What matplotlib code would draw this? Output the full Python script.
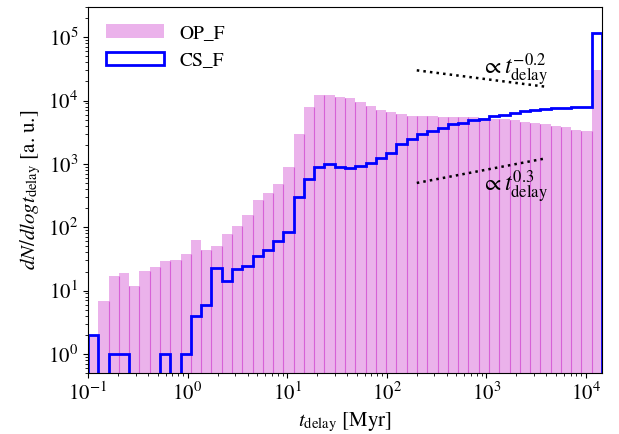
import numpy as np
import matplotlib

matplotlib.use("Agg")
import matplotlib.pyplot as plt

plt.rcParams["font.family"] = "STIXGeneral"
plt.rcParams["mathtext.fontset"] = "stix"

# log-spaced delay-time bins (Myr)
T_MIN = 0.1
T_MAX = 1.45e4
N_BINS = 50

OP_F = [2, 6.9, 17, 19, 12, 20.5, 23.7, 29.5, 30.5, 38,
        63, 44, 51, 79, 105, 157, 271, 349, 485, 900,
        2990, 7980, 12400, 12200, 11500, 11100, 9570, 8270, 7160, 6650,
        6200, 5800, 5750, 5650, 5550, 5500, 5450, 5400, 5300, 5200,
        5100, 4850, 4625, 4400, 4300, 4000, 3810, 3460, 3330, 29900]

CS_F = [2, 0, 1, 1, 0, 0, 0, 1, 0, 1,
        4, 6, 23, 14, 22, 24, 35, 44, 60, 84,
        300, 575, 900, 980, 900, 867, 923, 1030, 1250, 1510,
        2055, 2500, 2950, 3300, 3700, 4200, 4500, 4900, 5200, 5600,
        6000, 6400, 6800, 7100, 7400, 7600, 7750, 7900, 8000, 116500]

# guide power laws
SLOPE_HI, NORM_HI = -0.2, 3.0e4
SLOPE_LO, NORM_LO = 0.3, 500.0
GUIDE_X = (200.0, 3800.0)

Y_MIN, Y_MAX = 0.5, 3e5

edges = np.logspace(np.log10(T_MIN), np.log10(T_MAX), N_BINS + 1)
centers = np.sqrt(edges[:-1] * edges[1:])
op = np.array(OP_F, dtype=float)

fig = plt.figure(figsize=(6.19, 4.34), dpi=100)
ax = fig.add_axes([0.1422, 0.1406, 0.8304, 0.8433])

ax.hist(centers, bins=edges, weights=OP_F, color="m", alpha=0.3,
        linewidth=0, label="OP_F")
# seams between neighbouring bars
ax.vlines(edges[1:-1], Y_MIN, np.minimum(op[:-1], op[1:]), color="m",
          alpha=0.45, linewidth=0.8)
ax.hist(centers, bins=edges, weights=CS_F, histtype="step", color="b",
        linewidth=2, label="CS_F")

gx = np.array(GUIDE_X)
ax.plot(gx, NORM_HI * (gx / gx[0]) ** SLOPE_HI, ls=":", color="k", lw=1.8)
ax.plot(gx, NORM_LO * (gx / gx[0]) ** SLOPE_LO, ls=":", color="k", lw=1.8)
ax.text(1900, 3.1e4, r"$\propto t_{\rm delay}^{-0.2}$", fontsize=17,
        ha="center", va="center")
ax.text(1900, 440, r"$\propto t_{\rm delay}^{0.3}$", fontsize=17,
        ha="center", va="center")

ax.set_xscale("log")
ax.set_yscale("log")
ax.set_xlim(T_MIN, T_MAX)
ax.set_ylim(Y_MIN, Y_MAX)
ax.tick_params(labelsize=15)
ax.set_xlabel(r"$t_{\rm delay}$ [Myr]", fontsize=15)
ax.set_ylabel(r"$dN/dlog t_{\rm delay}$ [a. u.]", fontsize=15)
ax.legend(loc="upper left", frameon=False, fontsize=14, handlelength=3.0)

fig.savefig("out.png", dpi=100)
